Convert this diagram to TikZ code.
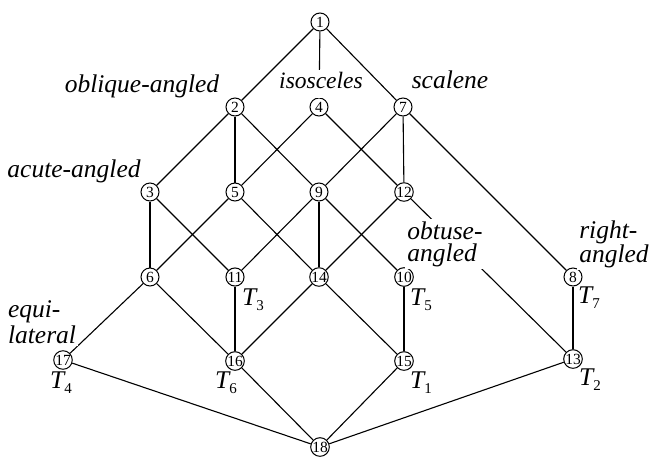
\documentclass[tikz,border=0pt]{standalone}
\usepackage{fontspec}
\setmainfont{Liberation Serif}
\usepackage{tikz}
\tikzstyle{vertex} = [circle, draw, fill=white, inner sep=0pt, line width=1pt,
                 minimum size=18pt, font=\fontsize{15.5}{15}\selectfont]
\tikzstyle{edge} = [line width=1.1pt, draw]
\tikzstyle{attr} = [fill=white, inner sep=2pt, align=left,
                 font=\fontsize{25.5}{22}\selectfont\itshape]
\tikzstyle{obj} = [inner sep=0pt, anchor=base west,
                 font=\fontsize{25.5}{25}\selectfont\itshape]
\newcommand{\Tobj}[1]{T\raisebox{-5pt}{\upshape\fontsize{15}{15}\selectfont #1}}

\begin{document}
\begin{tikzpicture}[x=1pt,y=-1pt]
\useasboundingbox (0,0) rectangle (651,456);

    	%lattice
\foreach \n/\x/\y in {1/320/22, 2/235/107, 4/319/107, 7/403/107,
	3/150/192, 5/235/192, 9/319/192, 12/404/192,
	6/150/277, 11/235/277, 14/319/277, 10/404/277, 8/573/277,
	17/63/360, 16/235/361, 15/404/361, 13/573/359, 18/320/447}
	\node [vertex] at (\x,\y) (n\n) {\n};

\foreach \a/\b in {1/2, 1/4, 1/7, 2/3, 2/5, 2/9, 4/5, 4/12, 7/9, 7/12, 7/8,
	3/6, 3/11, 5/6, 5/14, 9/11, 9/14, 9/10, 12/14, 12/13,
	6/17, 6/16, 11/16, 14/16, 14/15, 10/15, 8/13,
	17/18, 16/18, 15/18, 13/18}
	\path [edge] (n\a) -- (n\b);

    	%attributes
\node [attr, anchor=base] at (142,92) (oblique) {oblique-angled};
\node [attr, anchor=base, inner xsep=0pt, text depth=8pt,
	font=\fontsize{23.5}{22}\selectfont\itshape] at (321,88) (isos) {isosceles};
\node [attr, anchor=base] at (450,88) (scal) {scalene};
\node [attr, anchor=base] at (74,177) (acute) {acute-angled};
\node [attr] at (445,244) (obtuse) {obtuse-\\angled};
\node [attr] at (614,244) (right) {right-\\angled};
\node [attr, font=\fontsize{25.5}{26}\selectfont\itshape] at (42,322) (equi) {equi-\\lateral};

    	%objects
\foreach \x/\y/\t in {242/305/3, 410/305/5, 578/303/7,
	50/388/4, 215/388/6, 410/388/1, 579/385/2}
	\node [obj] at (\x,\y) (t\t) {\Tobj{\t}};

\end{tikzpicture}
\end{document}
